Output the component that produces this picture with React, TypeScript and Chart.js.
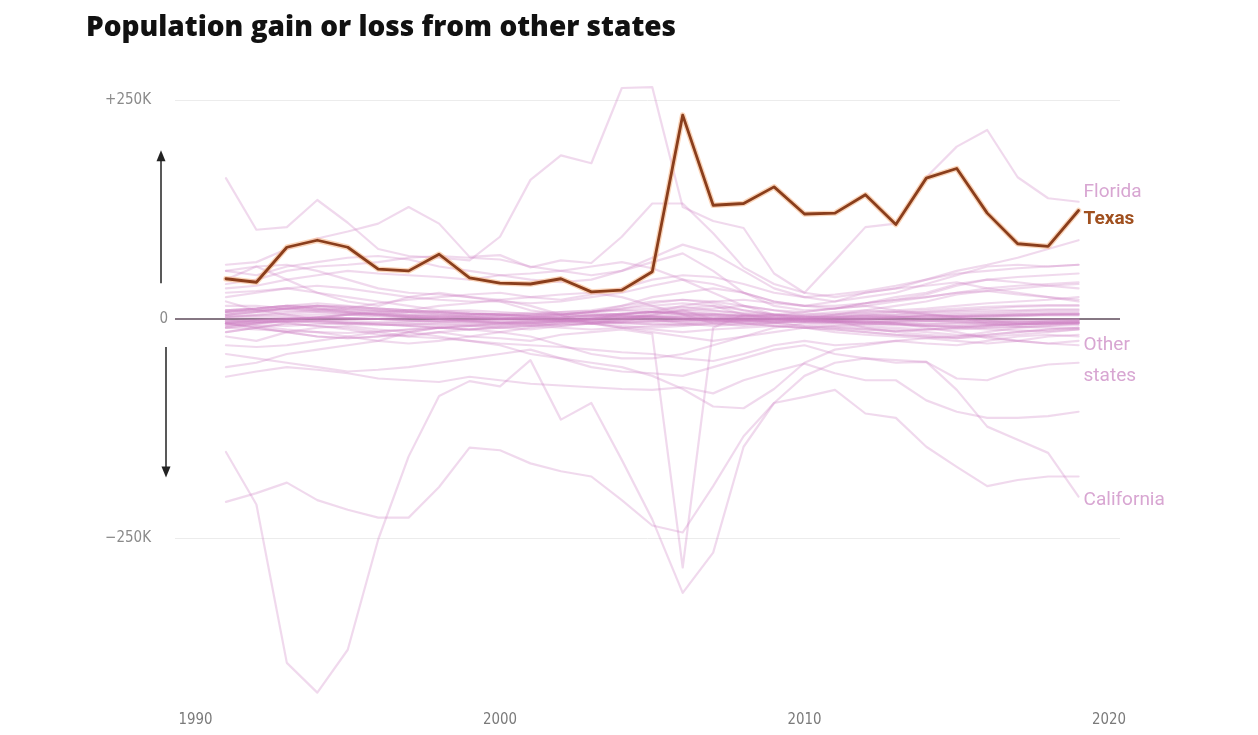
import { useEffect, useRef } from "react";
import { Chart, registerables } from "chart.js";

Chart.register(...registerables);

// Net domestic migration, thousands of people, by year
const years = [
  1991, 1992, 1993, 1994, 1995, 1996, 1997, 1998, 1999, 2000,
  2001, 2002, 2003, 2004, 2005, 2006, 2007, 2008, 2009, 2010,
  2011, 2012, 2013, 2014, 2015, 2016, 2017, 2018, 2019,
];

const texas = [46, 42, 82, 90, 82, 57, 55, 74, 47, 41, 40, 46, 31, 33, 54, 233, 130, 132, 151, 120, 121, 142, 108, 161, 172, 121, 86, 83, 124];
const florida = [161, 102, 105, 136, 110, 80, 72, 70, 67, 94, 159, 187, 178, 264, 265, 128, 112, 104, 52, 30, 67, 105, 109, 162, 197, 216, 162, 138, 134];
const california = [-152, -212, -393, -427, -378, -252, -157, -88, -71, -77, -47, -115, -96, -161, -229, -313, -267, -146, -96, -65, -50, -45, -47, -49, -81, -123, -138, -153, -203];
const newYork = [-209, -199, -187, -207, -218, -227, -227, -192, -147, -150, -165, -174, -180, -207, -236, -244, -191, -134, -96, -89, -81, -108, -113, -146, -169, -191, -184, -180, -180];
const illinois = [-66, -60, -55, -58, -62, -68, -70, -72, -66, -70, -74, -76, -78, -80, -81, -78, -85, -70, -60, -51, -62, -70, -70, -93, -106, -113, -113, -111, -106];
const louisiana = [-15, -10, -5, -8, -12, -18, -20, -15, -20, -22, -25, -18, -15, -12, -17, -284, -10, 5, 2, 0, -3, -2, -5, -10, -15, -22, -25, -28, -25];
const arizona = [62, 65, 80, 92, 100, 109, 128, 109, 71, 73, 59, 67, 64, 94, 132, 132, 98, 59, 40, 30, 25, 30, 35, 45, 55, 62, 70, 80, 90];
const northCarolina = [40, 45, 55, 60, 62, 65, 70, 72, 70, 68, 60, 55, 50, 55, 70, 85, 75, 55, 35, 25, 20, 25, 30, 40, 50, 60, 62, 60, 62];
const michigan = [-20, -25, -15, -10, -8, -12, -15, -20, -25, -30, -40, -45, -50, -55, -65, -80, -100, -102, -80, -50, -35, -30, -25, -28, -30, -25, -20, -18, -20];
const ohio = [-15, -10, -5, -8, -10, -15, -20, -22, -25, -28, -30, -32, -35, -38, -40, -45, -48, -40, -30, -25, -30, -28, -25, -22, -20, -18, -15, -12, -10];
const newJersey = [-40, -45, -50, -55, -60, -58, -55, -50, -45, -40, -35, -45, -55, -60, -62, -65, -55, -45, -35, -30, -40, -45, -50, -49, -68, -70, -58, -52, -50];
const massachusetts = [-55, -50, -40, -35, -30, -25, -15, -10, -12, -15, -20, -30, -40, -45, -45, -40, -30, -20, -10, -5, -8, -10, -12, -15, -18, -20, -25, -28, -30];
const pennsylvania = [-10, -8, -12, -15, -20, -25, -28, -25, -20, -15, -10, -5, 0, 5, 8, 5, 0, -5, -8, -10, -15, -18, -20, -22, -25, -28, -25, -20, -18];
const connecticut = [-30, -32, -30, -25, -20, -15, -12, -10, -8, -10, -12, -8, -5, -10, -12, -15, -12, -10, -8, -10, -12, -15, -18, -20, -22, -20, -18, -15, -12];
const hawaii = [-5, -10, -15, -20, -22, -20, -18, -15, -12, -8, -5, -2, 0, 2, 0, -5, -8, -6, -4, -3, -5, -8, -10, -12, -12, -10, -9, -10, -11];
const georgia = [55, 50, 60, 65, 70, 72, 68, 60, 55, 50, 45, 42, 45, 55, 65, 75, 55, 30, 15, 10, 12, 18, 25, 30, 40, 45, 48, 50, 52];
const washington = [55, 60, 45, 30, 20, 15, 25, 30, 25, 20, 10, 5, 8, 15, 25, 30, 35, 30, 20, 15, 12, 18, 22, 28, 38, 45, 42, 38, 35];
const colorado = [45, 60, 62, 55, 45, 35, 30, 28, 25, 22, 15, 5, -5, -2, 8, 15, 20, 22, 18, 15, 20, 30, 35, 38, 42, 35, 30, 25, 20];
const nevada = [35, 38, 45, 50, 55, 52, 50, 48, 45, 50, 52, 55, 60, 65, 58, 45, 30, 15, 5, 0, 5, 10, 15, 20, 28, 32, 35, 38, 40];
const oregon = [30, 32, 35, 30, 25, 20, 15, 10, 8, 5, 3, 5, 8, 12, 18, 22, 20, 15, 10, 8, 12, 15, 20, 25, 30, 32, 28, 25, 22];
const tennessee = [25, 30, 35, 38, 35, 30, 25, 22, 20, 20, 18, 20, 25, 30, 38, 45, 40, 30, 20, 15, 15, 18, 22, 25, 30, 35, 38, 40, 42];
const southCarolina = [15, 15, 12, 10, 12, 18, 22, 25, 28, 30, 25, 22, 28, 35, 45, 50, 48, 40, 30, 25, 28, 32, 38, 45, 52, 55, 58, 60, 62];
const idaho = [10, 12, 15, 18, 15, 12, 10, 8, 6, 5, 5, 8, 10, 15, 20, 22, 18, 10, 5, 3, 5, 8, 10, 12, 15, 18, 20, 22, 25];
const utah = [8, 10, 12, 10, 8, 5, 3, 0, -3, -5, -8, -3, 0, 5, 10, 12, 15, 5, 0, -2, 2, 5, 8, 10, 12, 14, 15, 16, 16];
const virginia = [20, 10, 5, 0, 5, 8, 10, 15, 18, 22, 25, 28, 30, 25, 15, 5, -5, -8, -5, 0, -2, -10, -15, -18, -20, -15, -10, -8, -5];
const alabama = [10, 12, 15, 15, 12, 10, 8, 6, 5, 3, 2, 5, 8, 12, 15, 18, 15, 10, 5, 3, 2, 3, 5, 8, 10, 12, 14, 15, 15];
const kentucky = [8, 10, 12, 12, 10, 9, 8, 7, 6, 5, 3, 2, 4, 6, 8, 10, 9, 7, 5, 3, 2, 0, 2, 4, 5, 6, 7, 8, 8];
const missouri = [5, 8, 12, 15, 14, 12, 10, 8, 6, 5, 3, 2, 4, 6, 8, 8, 6, 4, 2, 0, -2, -3, -2, 0, 2, 4, 5, 6, 6];
const arkansas = [8, 10, 12, 15, 14, 12, 10, 8, 6, 5, 4, 5, 8, 10, 12, 14, 10, 6, 4, 2, 0, 0, 1, 2, 3, 4, 5, 5, 5];
const newMexico = [8, 12, 15, 12, 8, 5, 2, 0, -2, -4, -5, -2, 2, 5, 8, 6, 3, 0, -4, -8, -10, -12, -14, -12, -10, -8, -6, -5, -4];
const oklahoma = [-10, -5, 0, 2, 5, 3, 2, 0, -2, -3, -5, -8, -5, 0, 5, 10, 12, 15, 10, 5, 8, 10, 8, 5, 2, -2, -5, -3, -2];
const minnesota = [5, 8, 10, 8, 6, 5, 3, 2, 0, 2, 0, -2, -5, -8, -10, -8, -5, -3, -2, 0, -2, -3, -5, -6, -5, -4, -3, -2, -1];
const wisconsin = [10, 12, 15, 12, 10, 8, 5, 3, 2, 0, 2, 3, 5, 4, 2, 0, -2, -5, -8, -10, -8, -6, -5, -8, -10, -8, -6, -4, -3];
const indiana = [5, 8, 12, 15, 12, 10, 8, 5, 3, 0, -2, -3, -2, 0, 2, 3, 5, 2, 0, -2, -3, 0, 2, 4, 3, 2, 3, 5, 6];
const iowa = [-8, -5, -3, -2, -4, -6, -8, -10, -12, -10, -8, -6, -5, -4, -3, -2, 0, 2, 0, -2, -3, -4, -3, -2, -3, -4, -5, -6, -5];
const kansas = [-3, -2, 0, -2, -5, -6, -8, -10, -12, -10, -8, -10, -12, -10, -8, -6, -4, -2, -5, -8, -10, -12, -14, -12, -10, -12, -13, -14, -12];
const nebraska = [-2, -3, -2, -1, -3, -4, -5, -6, -7, -8, -7, -6, -5, -4, -3, -2, -1, 0, -1, -2, -3, -4, -4, -5, -5, -6, -6, -5, -5];
const mississippi = [2, 4, 6, 8, 7, 6, 5, 4, 3, 2, 0, -2, -3, -4, 5, 10, 0, -2, -3, -4, -5, -6, -7, -8, -8, -7, -6, -5, -4];
const westVirginia = [-5, -2, 0, 2, 1, 0, -2, -3, -4, -5, -3, -2, 0, 2, 3, 2, 0, -1, -2, -3, -4, -5, -6, -7, -8, -7, -6, -5, -5];
const maryland = [-5, -10, -15, -20, -22, -20, -15, -10, -8, -5, -2, 0, -5, -10, -15, -20, -25, -20, -15, -10, -12, -15, -18, -20, -22, -18, -15, -12, -10];
const montana = [3, 5, 8, 10, 8, 6, 4, 2, 1, 0, 1, 2, 4, 6, 8, 7, 6, 4, 3, 2, 3, 4, 5, 6, 7, 8, 9, 10, 10];
const maine = [-5, -4, -3, -2, -1, 0, 1, 2, 3, 4, 5, 6, 7, 5, 3, 1, 0, -1, 0, 1, 2, 3, 2, 1, 2, 3, 4, 5, 5];
const newHampshire = [-8, -5, -2, 2, 5, 6, 8, 9, 10, 8, 6, 5, 4, 3, 2, 0, -2, -3, -2, 0, 1, 2, 3, 4, 4, 5, 5, 6, 6];
const delaware = [3, 4, 4, 5, 5, 4, 3, 4, 5, 6, 7, 8, 9, 10, 8, 6, 5, 4, 4, 5, 6, 7, 8, 8, 9, 10, 10, 11, 11];
const rhodeIsland = [-6, -7, -8, -6, -5, -4, -3, -2, -1, 0, 1, 0, -2, -4, -6, -7, -6, -5, -4, -3, -3, -4, -3, -2, -2, -3, -2, -2, -2];
const vermont = [1, 2, 2, 1, 0, 0, 1, 1, 2, 1, 0, -1, 0, 1, 0, -1, -1, 0, 0, 0, -1, -1, -1, -2, -1, -1, 0, 0, 0];
const northDakota = [-5, -4, -3, -4, -5, -6, -7, -8, -6, -5, -4, -3, -2, -2, -1, 0, 1, 3, 5, 8, 12, 15, 10, 6, 2, -5, -8, -6, -4];
const southDakota = [-2, -1, 0, 1, 1, 0, -1, -2, -1, 0, 1, 1, 2, 2, 3, 2, 2, 1, 1, 0, 1, 2, 2, 3, 3, 3, 4, 4, 4];
const wyoming = [-3, -1, 1, 2, 1, 0, -2, -3, -2, -1, 0, 1, 2, 3, 4, 5, 4, 3, 2, 0, -1, 1, 0, -2, -3, -5, -4, -3, -2];
const alaska = [-5, -3, -2, -4, -6, -7, -6, -5, -4, -3, -2, -1, 0, -1, -2, -3, -2, -1, 0, -1, -3, -5, -6, -8, -9, -10, -9, -8, -7];
const districtOfColumbia = [-10, -12, -14, -15, -16, -14, -12, -10, -8, -6, -5, -4, -3, -5, -6, -5, -3, -2, 0, 2, 4, 5, 3, 1, 0, -2, -3, -4, -4];

const backgroundStates = [
  florida, california, newYork, illinois, louisiana, arizona, northCarolina,
  michigan, ohio, newJersey, massachusetts, pennsylvania, connecticut, hawaii,
  georgia, washington, colorado, nevada, oregon, tennessee, southCarolina,
  idaho, utah, virginia, alabama, kentucky, missouri, arkansas, newMexico,
  oklahoma, minnesota, wisconsin, indiana, iowa, kansas, nebraska, mississippi,
  westVirginia, maryland, montana, maine, newHampshire, delaware, rhodeIsland,
  vermont, northDakota, southDakota, wyoming, alaska, districtOfColumbia,
];

const yTicks = [250, 0, -250];
const yTickLabels = ["+250K", "0", "\u2212250K"];
const xTicks = [1990, 2000, 2010, 2020];

const TITLE = "Population gain or loss from other states";
const STATE_PINK = "rgba(204, 128, 194, 0.3)";
const LABEL_PINK = "rgb(216, 166, 210)";
const TEXAS_BROWN = "#8a3e1c";
const TEXAS_LABEL = "#a0501f";

const toPoints = (values: number[]) => values.map((v, i) => ({ x: years[i], y: v }));

const decorations = {
  id: "decorations",
  beforeDatasetsDraw(chart: any) {
    const { ctx, chartArea, scales } = chart;
    const y = scales.y;
    ctx.save();
    // light reference lines at +/-250K
    ctx.strokeStyle = "#ececec";
    ctx.lineWidth = 1;
    [250, -250].forEach((v) => {
      const py = Math.round(y.getPixelForValue(v)) + 0.5;
      ctx.beginPath();
      ctx.moveTo(chartArea.left, py);
      ctx.lineTo(chartArea.right, py);
      ctx.stroke();
    });
    // baseline at zero
    const zy = y.getPixelForValue(0);
    ctx.strokeStyle = "#5e4a5a";
    ctx.lineWidth = 1.6;
    ctx.beginPath();
    ctx.moveTo(chartArea.left, zy);
    ctx.lineTo(chartArea.right, zy);
    ctx.stroke();
    ctx.restore();
  },
  afterDraw(chart: any) {
    const { ctx, chartArea, scales } = chart;
    const x = scales.x;
    const y = scales.y;
    ctx.save();

    // title
    ctx.fillStyle = "#111";
    ctx.font = "800 28px 'Open Sans', 'DejaVu Sans', sans-serif";
    ctx.textBaseline = "alphabetic";
    ctx.textAlign = "left";
    ctx.fillText(TITLE, 86, 36, 598);

    // y tick labels
    ctx.fillStyle = "#8a8a8a";
    ctx.font = "15px 'DejaVu Sans Condensed', 'Liberation Sans', sans-serif";
    ctx.textBaseline = "middle";
    ctx.textAlign = "right";
    yTicks.forEach((v, i) => {
      const right = v === 0 ? chartArea.left - 7 : chartArea.left - 24;
      ctx.fillText(yTickLabels[i], right, y.getPixelForValue(v), 70);
    });

    // x tick labels
    ctx.fillStyle = "#7a7a7a";
    ctx.font = "15px 'DejaVu Sans Condensed', 'Liberation Sans', sans-serif";
    ctx.textAlign = "center";
    xTicks.forEach((v) => {
      ctx.fillText(String(v), x.getPixelForValue(v), 720, 34);
    });

    // gain / loss arrows
    ctx.strokeStyle = "#222";
    ctx.fillStyle = "#222";
    ctx.lineWidth = 1.5;
    const drawArrow = (ax: number, from: number, to: number) => {
      const y0 = y.getPixelForValue(from);
      const y1 = y.getPixelForValue(to);
      const dir = y1 < y0 ? -1 : 1;
      ctx.beginPath();
      ctx.moveTo(ax, y0);
      ctx.lineTo(ax, y1 - dir * 8);
      ctx.stroke();
      ctx.beginPath();
      ctx.moveTo(ax, y1);
      ctx.lineTo(ax - 4.5, y1 - dir * 11);
      ctx.lineTo(ax + 4.5, y1 - dir * 11);
      ctx.closePath();
      ctx.fill();
    };
    drawArrow(chartArea.left - 14, 41, 193);
    drawArrow(chartArea.left - 9, -32, -181);

    // series labels at the right end
    const lx = x.getPixelForValue(2019) + 5;
    ctx.textAlign = "left";
    ctx.textBaseline = "middle";
    ctx.font = "19px Roboto, 'Liberation Sans', sans-serif";
    ctx.fillStyle = LABEL_PINK;
    ctx.fillText("Florida", lx, 192);
    ctx.fillText("Other", lx, 345);
    ctx.fillText("states", lx, 376);
    ctx.fillText("California", lx, 500);
    ctx.font = "bold 19px Roboto, 'Liberation Sans', sans-serif";
    ctx.fillStyle = TEXAS_LABEL;
    ctx.fillText("Texas", lx, 219);

    ctx.restore();
  },
};

export default function App() {
  const canvasRef = useRef<HTMLCanvasElement | null>(null);

  useEffect(() => {
    const canvas = canvasRef.current;
    if (!canvas) return;

    // higher `order` is painted first, so Texas (order 0) sits on top
    const stateSets = backgroundStates.map((values) => ({
      data: toPoints(values),
      borderColor: STATE_PINK,
      borderWidth: 2.2,
      pointRadius: 0,
      tension: 0,
      clip: false as const,
      order: 2,
    }));

    const chart = new Chart(canvas, {
      type: "line",
      data: {
        datasets: [
          ...stateSets,
          {
            data: toPoints(texas),
            borderColor: "rgba(246, 176, 128, 0.55)",
            borderWidth: 5.5,
            pointRadius: 0,
            tension: 0,
            clip: false as const,
            order: 1,
          },
          {
            data: toPoints(texas),
            borderColor: TEXAS_BROWN,
            borderWidth: 2.8,
            pointRadius: 0,
            tension: 0,
            clip: false as const,
            order: 0,
          },
        ],
      },
      options: {
        responsive: false,
        animation: false,
        events: [],
        layout: { padding: { left: 175, right: 138, top: 56.5, bottom: 22.25 } },
        elements: { line: { borderJoinStyle: "round", borderCapStyle: "round" } },
        scales: {
          x: { type: "linear", min: 1989.327, max: 2020.361, display: false },
          y: { type: "linear", min: -450, max: 300, display: false },
        },
        plugins: {
          legend: { display: false },
          tooltip: { enabled: false },
          title: { display: false },
        },
      },
      plugins: [decorations],
    });

    return () => chart.destroy();
  }, []);

  return (
    <div style={{ position: "absolute", left: 0, top: 0, width: 1258, height: 735, background: "#fff" }}>
      <canvas ref={canvasRef} width={1258} height={735} style={{ display: "block" }} />
    </div>
  );
}
